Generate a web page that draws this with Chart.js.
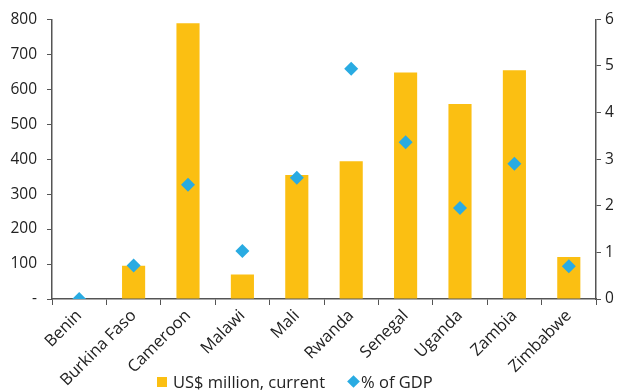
<!DOCTYPE html>
<html>
<head>
<meta charset="utf-8">
<script src="https://cdn.jsdelivr.net/npm/chart.js@4"></script>
<style>
  body { margin: 0; background: #fff; }
  #wrap { position: relative; width: 623px; height: 392px; }
  #legend {
    position: absolute; left: 157px; top: 370px;
    display: flex; align-items: center;
    font-family: "Open Sans", "Noto Sans", sans-serif; font-size: 16.5px; color: #222;
  }
  .item { display: flex; align-items: center; }
  .box { width: 10px; height: 10px; background: #FBBF12; margin-right: 6px; }
  .dia { width: 9px; height: 9px; background: #29ABE2; transform: rotate(45deg); margin: 0 3px 0 2px; }
</style>
</head>
<body>
<div id="wrap">
  <canvas id="myChart" width="623" height="392"></canvas>
  <div id="legend"></div>
</div>
<script>
// Dados do gráfico
const countries = ['Benin', 'Burkina Faso', 'Cameroon', 'Malawi', 'Mali', 'Rwanda', 'Senegal', 'Uganda', 'Zambia', 'Zimbabwe'];
const usdMillion = [0, 95, 789, 70, 355, 394, 648, 558, 654, 120];
const pctGdp = [0, 0.72, 2.45, 1.03, 2.6, 4.94, 3.36, 1.95, 2.9, 0.7];

const axisColor = '#555';
const fontFamily = '"Open Sans", "Noto Sans", sans-serif';

const ctx = document.getElementById('myChart').getContext('2d');

const myChart = new Chart(ctx, {
    data: {
        labels: countries,
        datasets: [{
            type: 'line',
            label: '% of GDP',
            data: pctGdp,
            yAxisID: 'y1',
            showLine: false,
            pointStyle: 'rectRot',
            pointRadius: 7,
            pointHoverRadius: 7,
            backgroundColor: '#29ABE2',
            borderColor: '#29ABE2',
            borderWidth: 0,
            order: 0
        }, {
            type: 'bar',
            label: 'US$ million, current',
            data: usdMillion,
            yAxisID: 'y',
            backgroundColor: '#FBBF12',
            barPercentage: 0.85,
            categoryPercentage: 0.5,
            order: 1
        }]
    },
    options: {
        responsive: false,
        animation: false,
        layout: { padding: { top: 13, right: 0, left: 0, bottom: 0 } },
        scales: {
            x: {
                offset: true,
                afterFit: scale => { scale.height = 93; },
                grid: {
                    offset: true,
                    drawOnChartArea: false,
                    color: axisColor,
                    tickLength: 6
                },
                border: { color: axisColor, width: 1.5 },
                ticks: {
                    color: '#222',
                    maxRotation: 45,
                    minRotation: 45,
                    padding: 1,
                    font: { family: fontFamily, size: 16.5 }
                }
            },
            y: {
                position: 'left',
                min: 0,
                max: 800,
                afterFit: scale => { scale.width = 52; },
                grid: {
                    drawOnChartArea: false,
                    color: axisColor,
                    tickLength: 5
                },
                border: { color: axisColor, width: 1.5 },
                ticks: {
                    stepSize: 100,
                    color: '#222',
                    padding: 10,
                    font: { family: fontFamily, size: 15.5 },
                    callback: v => v === 0 ? '-' : v
                }
            },
            y1: {
                position: 'right',
                min: 0,
                max: 6,
                afterFit: scale => { scale.width = 27; },
                grid: {
                    drawOnChartArea: false,
                    color: axisColor,
                    tickLength: 5
                },
                border: { color: axisColor, width: 1.5 },
                ticks: {
                    stepSize: 1,
                    color: '#222',
                    padding: 4,
                    font: { family: fontFamily, size: 15.5 }
                }
            }
        },
        plugins: {
            tooltip: { enabled: false },
            legend: { display: false }
        }
    }
});

// Legenda em HTML (texto real), a partir dos datasets
const legendEl = document.getElementById('legend');
[myChart.data.datasets[1], myChart.data.datasets[0]].forEach((ds, i) => {
    const item = document.createElement('div');
    item.className = 'item';
    if (i > 0) item.style.marginLeft = '22px';
    const mark = document.createElement('span');
    mark.className = ds.type === 'bar' ? 'box' : 'dia';
    const txt = document.createElement('span');
    txt.textContent = ds.label;
    item.appendChild(mark);
    item.appendChild(txt);
    legendEl.appendChild(item);
});
</script>
</body>
</html>
